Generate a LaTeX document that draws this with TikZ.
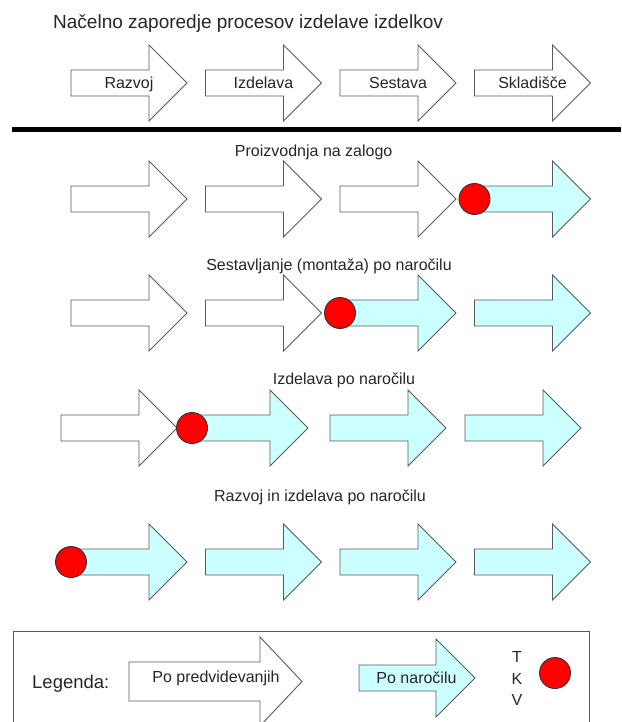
\documentclass[tikz,border=0pt]{standalone}
\usepackage{fontspec}
\setmainfont{Liberation Sans}

\definecolor{naroc}{HTML}{CCFFFF}
\definecolor{rdeca}{HTML}{FF0000}
\definecolor{obris}{HTML}{5A5A5A}

\tikzset{
	obroba/.style={draw=obris, line width=0.9pt},
	okvir/.style={draw=obris, line width=0.9pt},
	dolzina/.store in=\pdolz, dolzina=116,
	vrat/.store in=\pvrat, vrat=78,
	telo/.store in=\ptelo, telo=13,
	glava/.store in=\pglava, glava=38,
	pics/puscica/.style={code={
		\draw[obroba, fill=#1] (0,-\ptelo) -- (\pvrat,-\ptelo) -- (\pvrat,-\pglava)
			-- (\pdolz,0) -- (\pvrat,\pglava) -- (\pvrat,\ptelo) -- (0,\ptelo) -- cycle;
		\coordinate (-rep) at (0,0);
		\coordinate (-sred) at (\pdolz/2,0);
	}},
	tkv/.style={circle, draw=black!80, line width=0.9pt, fill=rdeca, minimum size=31pt, inner sep=0pt},
	oznaka/.style={font=\fontsize{16}{19}\selectfont, text height=11.5pt, text depth=0pt, inner sep=0pt, text=black!85},
}

\begin{document}
\begin{tikzpicture}[x=1pt, y=-1pt]
	\useasboundingbox (0,0) rectangle (621,722);
	\clip (0,0) rectangle (621,722);

	% osnovno zaporedje
	\node[oznaka, font=\fontsize{19}{22}\selectfont, text height=13.6pt, anchor=west] (naslov) at (53,21.6) {Načelno zaporedje procesov izdelave izdelkov};
	\foreach \ime [count=\i, evaluate=\i as \x using 71+134.5*(\i-1)] in {Razvoj,Izdelava,Sestava,Skladišče}{
		\pic (o\i) at (\x,83) {puscica=white};
		\node[oznaka] (t\i) at (o\i-sred) {\ime};
	}
	\draw[line width=4.5pt] (12,129.5) -- (621,129.5);

	% vrste: y, prva puscica po narocilu, polozaji
	\foreach \vr/\y/\prvi/\xs in {2/199/4/{71,205.5,340,474.5}, 3/313/3/{71,205.5,340,474.5}, 4/428/2/{61,192,330,465}, 5/562/1/{71,205.5,340,474.5}}{
		\foreach \x [count=\i] in \xs {
			\ifnum\i<\prvi \def\barva{white}\else\def\barva{naroc}\fi
			\pic (v\vr p\i) at (\x,\y) {puscica=\barva};
		}
		\node[tkv] (tkv\vr) at (v\vr p\prvi-rep) {};
	}
	\node[oznaka] (zaloga) at (313.7,151) {Proizvodnja na zalogo};
	\node[oznaka] (montaza) at (329,265) {Sestavljanje (montaža) po naročilu};
	\node[oznaka] (izdelava) at (344,379) {Izdelava po naročilu};
	\node[oznaka] (razvoj) at (320,495.5) {Razvoj in izdelava po naročilu};

	% legenda
	\draw[okvir] (13.5,631) rectangle (589.5,760);
	\node[oznaka, font=\fontsize{18.5}{22}\selectfont, text height=13.2pt, anchor=west] (legenda) at (32,682.3) {Legenda:};
	\pic[dolzina=173, vrat=131, telo=19.5, glava=44.5] (lp) at (129,681.5) {puscica=white};
	\node[oznaka] (lpt) at (216,676.7) {Po predvidevanjih};
	\pic[vrat=77, glava=39] (ln) at (359,678) {puscica=naroc};
	\node[oznaka] (lnt) at (416.5,678) {Po naročilu};
	\foreach \c/\y in {T/657,K/679,V/700}
		\node[oznaka] (crka\c) at (517,\y) {\c};
	\node[tkv] (tkvleg) at (555,673) {};
\end{tikzpicture}
\end{document}
